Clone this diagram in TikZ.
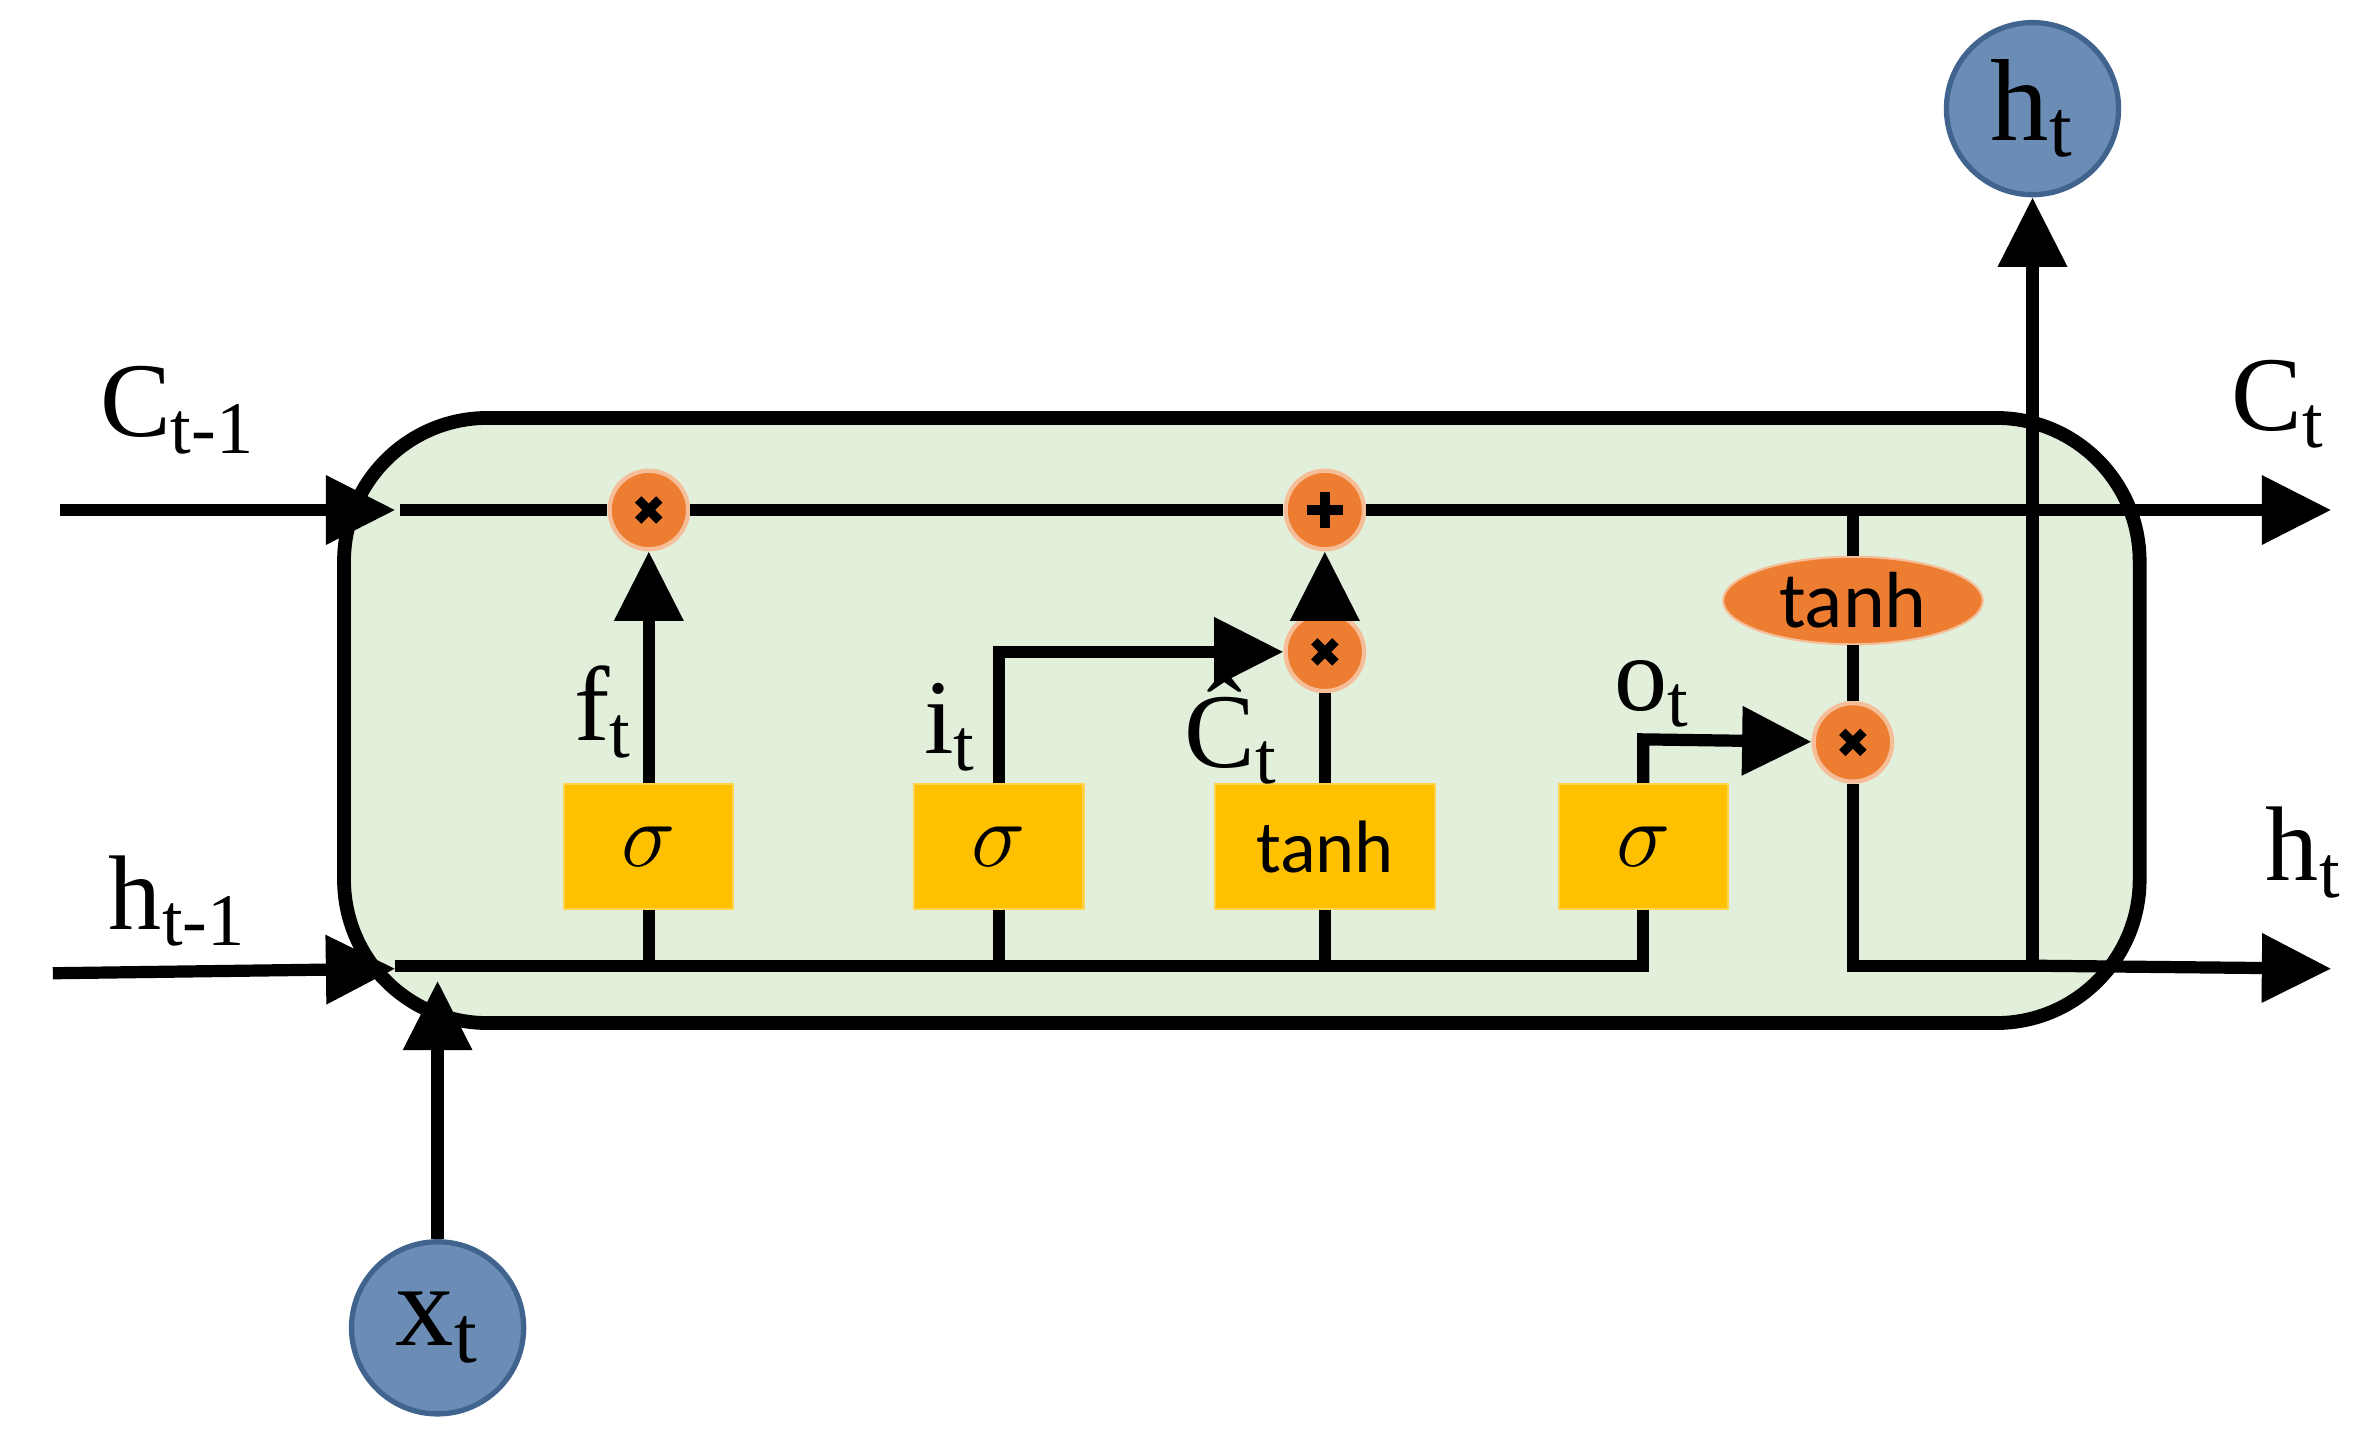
\documentclass[tikz,border=0pt]{standalone}
\usepackage{fontspec}
\setmainfont{Liberation Serif}
\newfontfamily\carl{Carlito}
\usetikzlibrary{arrows.meta,shapes.geometric}
\definecolor{cellg}{HTML}{E2EFDA}
\definecolor{org}{HTML}{ED7D31}
\definecolor{yel}{HTML}{FFC000}
\definecolor{blu}{HTML}{6B8DB5}
\definecolor{blud}{HTML}{41648F}
\begin{document}
\begin{tikzpicture}[x=0.01cm,y=-0.01cm,
  ln/.style={line width=2.3pt},
  ar/.style={ln,-{Triangle[length=0.46cm,width=0.44cm]}},
  op/.style={circle,fill=org,draw=org!50!white,line width=0.8pt,minimum size=0.52cm,inner sep=0pt},
  mul/.style={op,path picture={
     \draw[black,line width=1.7pt] ([shift={(-0.07cm,-0.07cm)}]path picture bounding box.center) -- ([shift={(0.07cm,0.07cm)}]path picture bounding box.center);
     \draw[black,line width=1.7pt] ([shift={(-0.07cm,0.07cm)}]path picture bounding box.center) -- ([shift={(0.07cm,-0.07cm)}]path picture bounding box.center);}},
  pls/.style={op,path picture={
     \draw[black,line width=1.8pt] ([shift={(-0.12cm,0cm)}]path picture bounding box.center) -- ([shift={(0.12cm,0cm)}]path picture bounding box.center);
     \draw[black,line width=1.8pt] ([shift={(0cm,-0.12cm)}]path picture bounding box.center) -- ([shift={(0cm,0.12cm)}]path picture bounding box.center);}},
  box/.style={rectangle,fill=yel,draw=yel!70!white,minimum width=1.12cm,minimum height=0.83cm,inner sep=0pt,font=\fontsize{18}{20}\selectfont},
  io/.style={circle,fill=blu,draw=blud,line width=1pt,minimum size=1.14cm,inner sep=0pt,font=\fontsize{22}{24}\selectfont},
  lb/.style={font=\fontsize{20}{22}\selectfont}]
\useasboundingbox (0,0) rectangle (1568,949);
\draw[ln,line width=2.6pt,fill=cellg,rounded corners=0.95cm] (228,277) rectangle (1418,678);
% nodes
\node[mul] (m1) at (430,338) {};
\node[pls] (p1) at (878,338) {};
\node[mul] (m2) at (878,432) {};
\node[mul] (m3) at (1228,492) {};
\node[box] (s1) at (430,561) {$\sigma$};
\node[box] (s2) at (662,561) {$\sigma$};
\node[box,minimum width=1.46cm,font=\carl\fontsize{14}{16}\selectfont] (t1) at (878,561) {tanh};
\node[box] (s3) at (1089,561) {$\sigma$};
\node[ellipse,fill=org,draw=org!50!white,minimum width=1.72cm,minimum height=0.58cm,inner sep=0pt,font=\carl\fontsize{15}{17}\selectfont] (th) at (1228,398) {tanh};
\node[io] (xt) at (290,880) {x\textsubscript{t}};
\node[io] (ht) at (1347,72) {h\textsubscript{t}};
\coordinate (cin) at (40,338);
\coordinate (cen) at (262,338);
\coordinate (cout) at (1545,338);
\coordinate (hin) at (35,645);
\coordinate (hen) at (262,642);
\coordinate (hout) at (1545,642);
% C line
\draw[ar] (cin) -- (cen);
\draw[ln] (265,338) -- (m1) -- (p1) -- (th.north |- 0,338);
\draw[ar] (th.north |- 0,338) -- (cout);
% h line
\draw[ar] (hin) -- (hen);
\draw[ln] (262,640) -- (s3.south |- 0,640) -- (s3.south);
\draw[ln] (s1.south) -- (430,640);
\draw[ln] (s2.south) -- (662,640);
\draw[ln] (t1.south) -- (878,640);
\draw[ar] (xt) -- (290,650);
% gates
\draw[ar] (s1.north) -- (m1);
\draw[ar] (s2.north) -- (662,432) -- (m2);
\draw[ln] (t1.north) -- (m2);
\draw[ar] (m2) -- (p1);
\draw[ar] (s3.north) -- (1089,490) -- (m3);
\draw[ln] (1228,338) -- (th) -- (m3);
\draw[ln] (m3) -- (1228,640) -- (1347,640);
\draw[ar] (1347,640) -- (hout);
\draw[ar] (1347,642) -- (ht);
% labels
\node[lb] (l1) at (118,272) {C\textsubscript{t-1}};
\node[lb] (l2) at (118,597) {h\textsubscript{t-1}};
\node[lb] (l3) at (400,472) {f\textsubscript{t}};
\node[lb] (l4) at (630,482) {i\textsubscript{t}};
\node[lb] (l5) at (816,484) {\^C\textsubscript{t}};
\node[lb] (l6) at (1095,460) {o\textsubscript{t}};
\node[lb] (l7) at (1510,268) {C\textsubscript{t}};
\node[lb] (l8) at (1527,565) {h\textsubscript{t}};
\end{tikzpicture}
\end{document}
